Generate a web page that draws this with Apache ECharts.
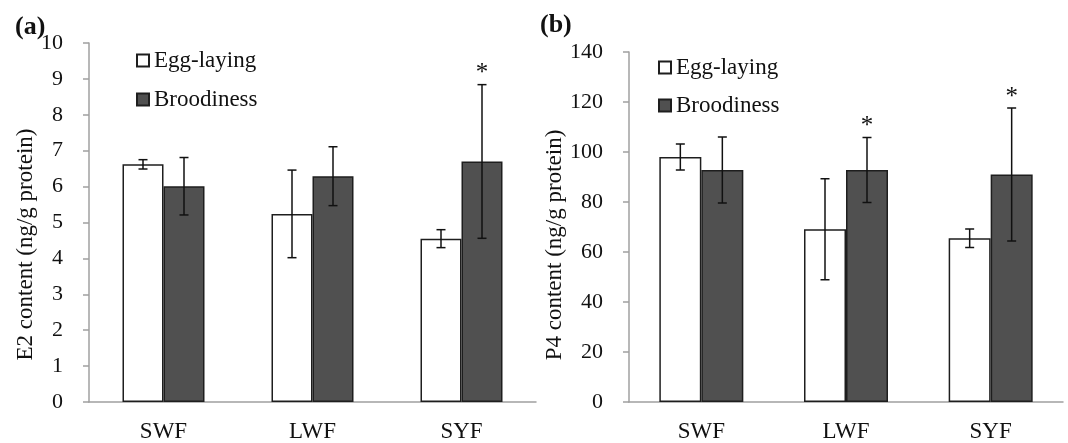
<!DOCTYPE html>
<html>
<head>
<meta charset="utf-8">
<script src="https://cdn.jsdelivr.net/npm/echarts@6/dist/echarts.min.js"></script>
<style>
  html, body { margin: 0; padding: 0; background: #fff; }
  #chart { width: 1068px; height: 443px; }
</style>
</head>
<body>
<div id="chart"></div>
<script>
// categories
const cats = ['SWF', 'LWF', 'SYF'];

// (a) E2 content, ng/g protein
const e2Egg = [6.62, 5.24, 4.55];
const e2EggErr = [0.13, 1.22, 0.25];
const e2Brood = [6.01, 6.29, 6.70];
const e2BroodErr = [0.80, 0.82, 2.14];
const e2Sig = ['', '', '*'];

// (b) P4 content, ng/g protein
const p4Egg = [98.0, 69.1, 65.5];
const p4EggErr = [5.2, 20.2, 3.7];
const p4Brood = [92.8, 92.8, 91.0];
const p4BroodErr = [13.2, 13.0, 26.6];
const p4Sig = ['', '*', '*'];

const FONT = 'Liberation Serif';
const AXIS_GRAY = '#a0a0a0';
const BORDER = '#1e1e1e';
const DARK = '#505050';

// error bar series; side -1 = left bar of the pair, +1 = right bar
let errSeries = (idx, vals, errs, sig, side, barW) => ({
    type: 'custom',
    xAxisIndex: idx,
    yAxisIndex: idx,
    silent: true,
    z: 5,
    data: vals.map((v, i) => [i, v - errs[i], v + errs[i], sig ? sig[i] : '']),
    renderItem: (params, api) => {
        let i = api.value(0);
        let lo = api.coord([i, api.value(1)]);
        let hi = api.coord([i, api.value(2)]);
        let x = lo[0] + side * barW / 2;
        let cap = 4.5;
        let style = { stroke: '#111', lineWidth: 1.5 };
        let children = [
            { type: 'line', shape: { x1: x, y1: lo[1], x2: x, y2: hi[1] }, style },
            { type: 'line', shape: { x1: x - cap, y1: lo[1], x2: x + cap, y2: lo[1] }, style },
            { type: 'line', shape: { x1: x - cap, y1: hi[1], x2: x + cap, y2: hi[1] }, style }
        ];
        let mark = api.value(3);
        if (mark) {
            children.push({
                type: 'text',
                style: {
                    text: mark, x: x, y: hi[1] - 11,
                    align: 'center', verticalAlign: 'middle',
                    font: '25px "' + FONT + '"', fill: '#111'
                }
            });
        }
        return { type: 'group', children };
    }
});

let barSeries = (idx, name, data, color, barW) => ({
    name,
    type: 'bar',
    xAxisIndex: idx,
    yAxisIndex: idx,
    barWidth: barW,
    barGap: '0%',
    data,
    itemStyle: { color, borderColor: BORDER, borderWidth: 1.5 }
});

let xAxisOf = idx => ({
    type: 'category',
    gridIndex: idx,
    data: cats,
    axisLine: { lineStyle: { color: AXIS_GRAY, width: 1.5 } },
    axisTick: { lineStyle: { color: AXIS_GRAY, width: 1.5 }, length: 7 },
    axisLabel: { color: '#111', fontFamily: FONT, fontSize: 23, margin: 18 }
});

let yAxisOf = (idx, max, interval, name, gap, shift) => ({
    type: 'value',
    gridIndex: idx,
    min: 0,
    max,
    interval,
    name,
    nameLocation: 'middle',
    nameGap: gap,
    nameTextStyle: { color: '#111', fontFamily: FONT, fontSize: 23, padding: [0, shift, 0, 0] },
    axisLine: { show: true, lineStyle: { color: AXIS_GRAY, width: 1.5 } },
    axisTick: { show: true, length: 6, lineStyle: { color: AXIS_GRAY, width: 1.5 } },
    axisLabel: { color: '#111', fontFamily: FONT, fontSize: 22, margin: 26 },
    splitLine: { show: false }
});

let legendOf = (left, top, gap) => ({
    orient: 'vertical',
    left,
    top,
    icon: 'rect',
    itemWidth: 12,
    itemHeight: 12,
    itemGap: gap,
    data: ['Egg-laying', 'Broodiness'],
    textStyle: { color: '#111', fontFamily: FONT, fontSize: 23, lineHeight: 22 }
});

let chart = echarts.init(document.getElementById('chart'), null, { renderer: 'canvas' });

let option = {
    animation: false,
    backgroundColor: '#fff',
    title: [
        { text: '(a)', left: 10, top: 9, textStyle: { fontFamily: FONT, fontSize: 26, fontWeight: 'bold', color: '#111' } },
        { text: '(b)', left: 535, top: 7, textStyle: { fontFamily: FONT, fontSize: 26, fontWeight: 'bold', color: '#111' } }
    ],
    legend: [legendOf(131, 44, 16), legendOf(653, 51, 15)],
    grid: [
        { left: 89, top: 43, width: 447, height: 360 },
        { left: 629, top: 52, width: 434, height: 350 }
    ],
    xAxis: [xAxisOf(0), xAxisOf(1)],
    yAxis: [
        yAxisOf(0, 10, 1, 'E2 content (ng/g protein)', 48, 44),
        yAxisOf(1, 140, 20, 'P4 content (ng/g protein)', 48, 36)
    ],
    series: [
        barSeries(0, 'Egg-laying', e2Egg, '#ffffff', 41),
        barSeries(0, 'Broodiness', e2Brood, DARK, 41),
        errSeries(0, e2Egg, e2EggErr, null, -1, 41),
        errSeries(0, e2Brood, e2BroodErr, e2Sig, 1, 41),
        barSeries(1, 'Egg-laying', p4Egg, '#ffffff', 42),
        barSeries(1, 'Broodiness', p4Brood, DARK, 42),
        errSeries(1, p4Egg, p4EggErr, null, -1, 42),
        errSeries(1, p4Brood, p4BroodErr, p4Sig, 1, 42)
    ]
};

chart.setOption(option);
</script>
</body>
</html>
